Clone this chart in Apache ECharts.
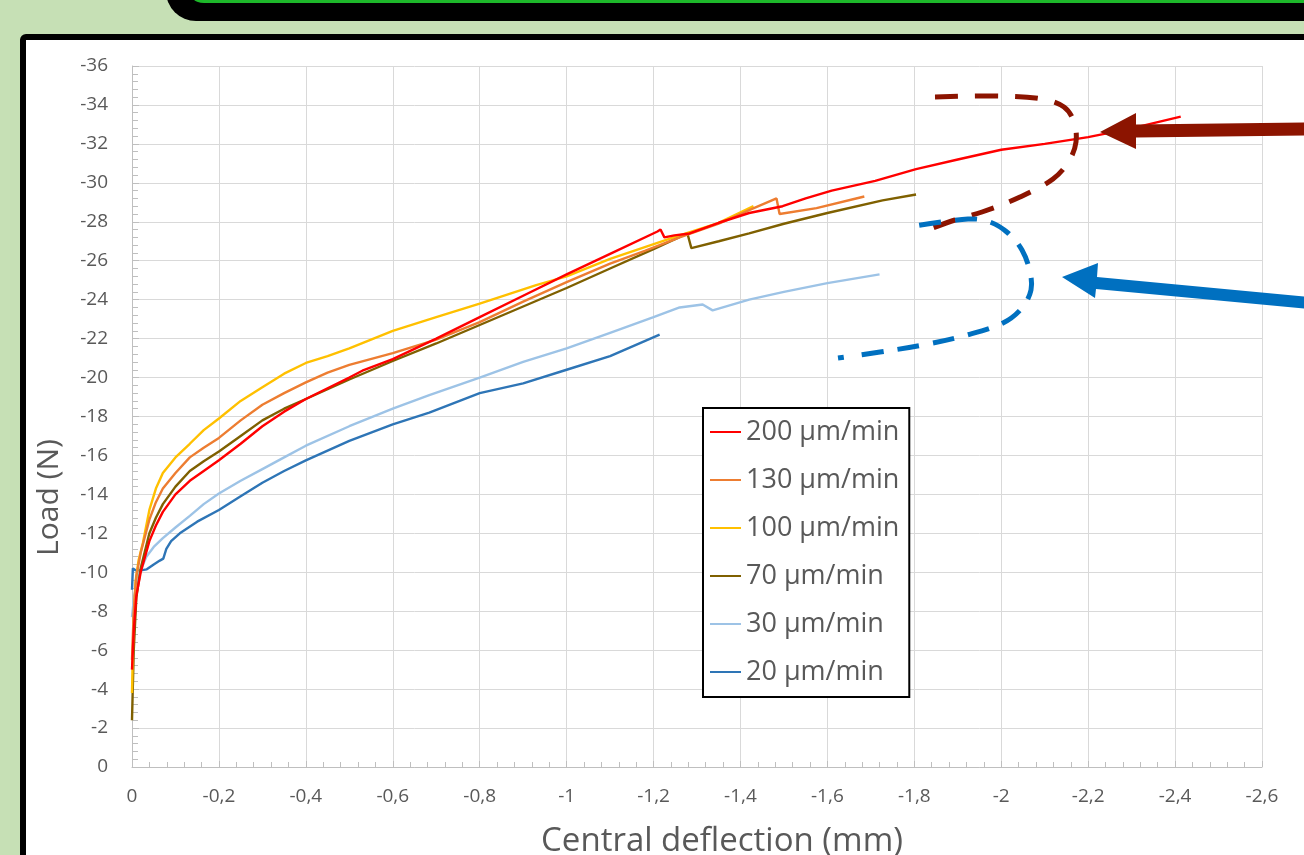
<!DOCTYPE html>
<html>
<head>
<meta charset="utf-8">
<script src="https://cdn.jsdelivr.net/npm/echarts@6/dist/echarts.min.js"></script>
<style>
html,body{margin:0;padding:0;background:#C6E0B5;overflow:hidden;}
#chart{width:1304px;height:855px;}
</style>
</head>
<body>
<div id="chart"></div>
<script>
// Series names (legend)
const seriesNames = ['200 µm/min', '130 µm/min', '100 µm/min', '70 µm/min', '30 µm/min', '20 µm/min'];
const seriesColors = ['#FF0000', '#ED7D31', '#FFC000', '#7F6000', '#9DC3E6', '#2E75B6'];

// [central deflection (mm), load (N)]
const rate200 = [[0,-5.0],[-0.004,-7.0],[-0.01,-8.8],[-0.02,-10.0],[-0.04,-11.6],[-0.055,-12.4],[-0.071,-13.1],[-0.1,-14.0],[-0.133,-14.7],[-0.165,-15.2],[-0.2,-15.75],[-0.25,-16.6],[-0.3,-17.5],[-0.35,-18.25],[-0.4,-18.9],[-0.45,-19.45],[-0.5,-20.0],[-0.53,-20.35],[-0.6,-20.95],[-0.7,-22.0],[-0.8,-23.1],[-0.9,-24.2],[-1.0,-25.3],[-1.1,-26.35],[-1.209,-27.5],[-1.216,-27.6],[-1.225,-27.2],[-1.248,-27.3],[-1.283,-27.4],[-1.35,-27.95],[-1.42,-28.45],[-1.497,-28.8],[-1.55,-29.2],[-1.61,-29.6],[-1.71,-30.1],[-1.804,-30.7],[-1.9,-31.2],[-2.0,-31.7],[-2.1,-32.0],[-2.2,-32.35],[-2.3,-32.8],[-2.413,-33.4]];
const rate130 = [[0,-5.5],[-0.004,-8.0],[-0.01,-9.8],[-0.02,-11.0],[-0.04,-12.7],[-0.055,-13.6],[-0.071,-14.3],[-0.1,-15.1],[-0.133,-15.9],[-0.165,-16.4],[-0.2,-16.9],[-0.25,-17.8],[-0.3,-18.6],[-0.35,-19.2],[-0.4,-19.75],[-0.45,-20.25],[-0.5,-20.65],[-0.6,-21.25],[-0.7,-21.95],[-0.8,-22.85],[-0.9,-23.9],[-1.0,-24.9],[-1.1,-25.85],[-1.18,-26.5],[-1.26,-27.2],[-1.35,-27.9],[-1.42,-28.6],[-1.483,-29.2],[-1.49,-28.4],[-1.575,-28.7],[-1.685,-29.3]];
const rate100 = [[0,-3.8],[-0.003,-7.0],[-0.008,-9.5],[-0.015,-10.6],[-0.025,-11.5],[-0.04,-13.2],[-0.055,-14.3],[-0.071,-15.1],[-0.1,-15.9],[-0.133,-16.6],[-0.165,-17.3],[-0.2,-17.9],[-0.25,-18.8],[-0.3,-19.5],[-0.35,-20.2],[-0.4,-20.75],[-0.45,-21.1],[-0.5,-21.5],[-0.6,-22.4],[-0.7,-23.1],[-0.8,-23.8],[-0.93,-24.75],[-1.0,-25.2],[-1.1,-26.1],[-1.18,-26.7],[-1.26,-27.3],[-1.345,-27.9],[-1.43,-28.8]];
const rate70 = [[0,-2.4],[-0.004,-6.0],[-0.01,-8.7],[-0.02,-10.2],[-0.04,-12.0],[-0.055,-12.8],[-0.071,-13.5],[-0.1,-14.4],[-0.133,-15.2],[-0.165,-15.7],[-0.2,-16.2],[-0.25,-17.0],[-0.3,-17.8],[-0.35,-18.4],[-0.4,-18.9],[-0.45,-19.4],[-0.5,-19.9],[-0.6,-20.85],[-0.7,-21.75],[-0.8,-22.7],[-0.9,-23.65],[-1.0,-24.6],[-1.1,-25.6],[-1.2,-26.6],[-1.278,-27.4],[-1.287,-26.65],[-1.35,-27.0],[-1.42,-27.4],[-1.5,-27.9],[-1.6,-28.45],[-1.727,-29.1],[-1.804,-29.4]];
const rate30 = [[0,-7.7],[-0.005,-8.8],[-0.012,-9.6],[-0.02,-10.1],[-0.033,-10.8],[-0.05,-11.3],[-0.071,-11.75],[-0.1,-12.3],[-0.133,-12.9],[-0.165,-13.5],[-0.2,-14.05],[-0.25,-14.7],[-0.3,-15.3],[-0.35,-15.9],[-0.4,-16.5],[-0.5,-17.5],[-0.6,-18.4],[-0.684,-19.1],[-0.8,-20.0],[-0.9,-20.8],[-1.0,-21.5],[-1.1,-22.3],[-1.2,-23.1],[-1.26,-23.6],[-1.313,-23.75],[-1.336,-23.45],[-1.42,-24.0],[-1.5,-24.4],[-1.6,-24.85],[-1.72,-25.3]];
const rate20 = [[0,-9.1],[-0.002,-10.2],[-0.008,-10.1],[-0.02,-10.1],[-0.034,-10.15],[-0.05,-10.4],[-0.064,-10.6],[-0.072,-10.7],[-0.079,-11.2],[-0.09,-11.6],[-0.11,-12.0],[-0.15,-12.6],[-0.2,-13.2],[-0.25,-13.9],[-0.3,-14.6],[-0.35,-15.2],[-0.4,-15.75],[-0.5,-16.75],[-0.6,-17.6],[-0.684,-18.2],[-0.8,-19.2],[-0.9,-19.7],[-1.0,-20.4],[-1.1,-21.1],[-1.214,-22.2]];
const seriesData = [rate200, rate130, rate100, rate70, rate30, rate20];

// Axis ranges
const xMin = -2.6, xMax = 0, xStep = 0.2;
const yMin = -36, yMax = 0, yStep = 2;

const FONT = 'Open Sans';
const TXT = '#595959';
const GRIDC = '#D9D9D9';
const AXC = '#BFBFBF';

const fmt = v => { const r = Math.round(v * 10) / 10; return (r === 0 ? '0' : String(r)).replace('.', ','); };

const chart = echarts.init(document.getElementById('chart'));
chart.setOption({
  animation: false,
  textStyle: { fontFamily: FONT },
  grid: { left: 132, width: 1130, top: 66, height: 701, containLabel: false, outerBoundsMode: 'none' },
  legend: {
    orient: 'vertical', left: 703, top: 408,
    icon: 'rect', itemWidth: 31, itemHeight: 2, itemGap: 18,
    padding: [9, 10, 10, 7],
    borderColor: '#000', borderWidth: 2, backgroundColor: '#fff',
    textStyle: { fontSize: 27, color: TXT, fontFamily: FONT, lineHeight: 30 },
    data: seriesNames
  },
  xAxis: {
    type: 'value', inverse: true, min: xMin, max: xMax, interval: xStep,
    name: 'Central deflection (mm)', nameLocation: 'middle', nameGap: 58,
    nameTextStyle: { fontSize: 33, color: TXT, fontFamily: FONT, padding: [0, 0, 0, 50] },
    axisLine: { show: true, onZero: false, lineStyle: { color: AXC, width: 1 } },
    axisTick: { show: true, inside: true, length: 6, lineStyle: { color: AXC } },
    minorTick: { show: true, splitNumber: 5, length: 5, lineStyle: { color: AXC } },
    splitLine: { show: true, lineStyle: { color: GRIDC, width: 1 } },
    axisLabel: { fontSize: 19, color: TXT, fontFamily: FONT, margin: 20, formatter: fmt }
  },
  yAxis: {
    type: 'value', inverse: true, min: yMin, max: yMax, interval: yStep,
    name: 'Load (N)', nameLocation: 'middle', nameGap: 68, nameRotate: 90,
    nameTextStyle: { fontSize: 30, color: TXT, fontFamily: FONT, padding: [0, 162, 0, 0] },
    axisLine: { show: true, onZero: false, lineStyle: { color: AXC, width: 1 } },
    axisTick: { show: true, inside: true, length: 7, lineStyle: { color: AXC } },
    minorTick: { show: true, splitNumber: 5, length: 6, lineStyle: { color: AXC } },
    splitLine: { show: true, lineStyle: { color: GRIDC, width: 1 } },
    axisLabel: { fontSize: 19, color: TXT, fontFamily: FONT, margin: 24, formatter: fmt }
  },
  series: seriesNames.map((n, i) => ({
    name: n, type: 'line', data: seriesData[i],
    showSymbol: false, symbol: 'none',
    color: seriesColors[i],
    lineStyle: { width: 2.4, color: seriesColors[i] },
    z: 10 - i
  })),
  graphic: [
    // frame decoration
    { type: 'rect', z: -100, shape: { x: 0, y: 0, width: 1304, height: 855 }, style: { fill: '#C6E0B5' } },
    { type: 'rect', z: -99, shape: { x: 166, y: -40, width: 1200, height: 61, r: 30 }, style: { fill: '#000' } },
    { type: 'rect', z: -98, shape: { x: 186, y: -40, width: 1200, height: 43, r: 18 }, style: { fill: '#1DB82A' } },
    { type: 'rect', z: -97, shape: { x: 23, y: 37, width: 1330, height: 870, r: 3 }, style: { fill: '#fff', stroke: '#000', lineWidth: 6 } },
    // dark red dashed loop
    { type: 'polyline', z: 100, shape: { smooth: 0.35, points: [[935,97],[1000,96],[1042,99],[1064,107],[1074,122],[1076,142],[1069,161],[1053,179],[1020,197],[982,212],[955,220],[930,229]] },
      style: { stroke: '#8C1400', lineWidth: 5, fill: null, lineDash: [23, 17] } },
    // blue dashed loop
    { type: 'polyline', z: 100, shape: { smooth: 0.35, points: [[838,358],[880,352],[923,345],[967,335],[1003,323],[1022,308],[1031,290],[1030,272],[1022,250],[1008,233],[990,222],[968,219],[908,227]] },
      style: { stroke: '#0070C0', lineWidth: 5, fill: null, lineDash: [6, 18, 22, 14, 22, 14, 22, 14, 22, 14, 22, 14, 22, 14, 22, 14, 22, 14, 22, 14, 22, 14] } },
    // dark red arrow
    { type: 'polygon', z: 100, shape: { points: [[1310,122.5],[1136,124.5],[1136,113],[1100,132],[1136,149],[1136,137.5],[1310,135.5]] }, style: { fill: '#8C1400' } },
    // blue arrow
    { type: 'polygon', z: 100, shape: { points: [[1310,297],[1097,277],[1098,263],[1062,277],[1095,298],[1096,289],[1310,309]] }, style: { fill: '#0070C0' } }
  ]
});
</script>
</body>
</html>
